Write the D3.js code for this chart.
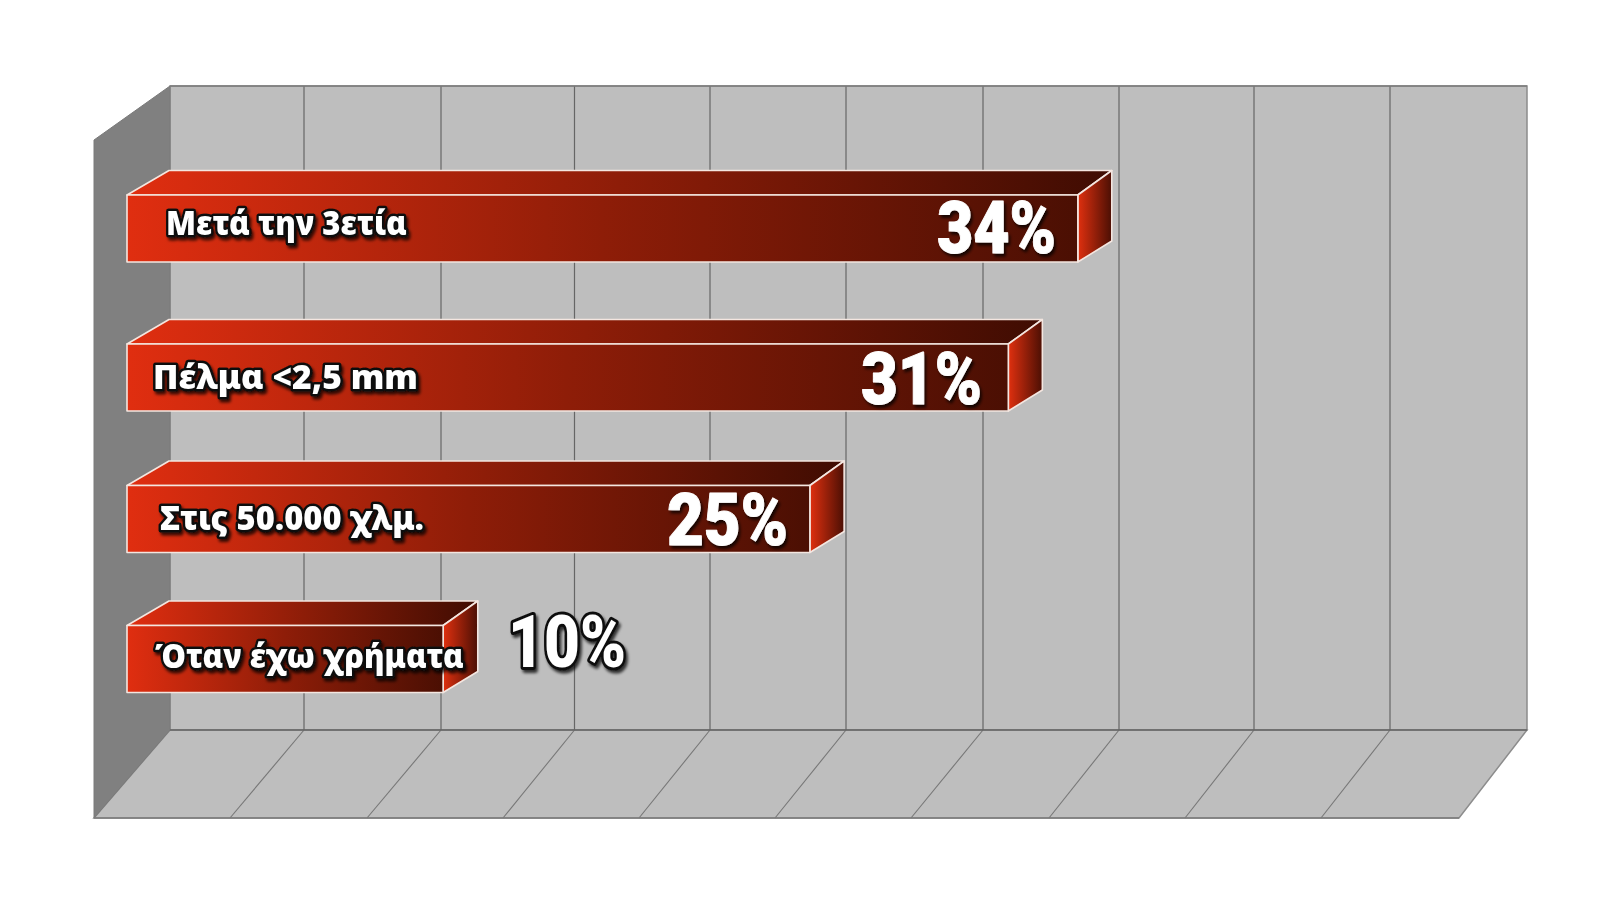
<!DOCTYPE html>
<html><head><meta charset="utf-8">
<script src="https://cdn.jsdelivr.net/npm/d3@7"></script>
<style>html,body{margin:0;background:#fff}svg{display:block}</style></head>
<body><svg id="c" width="1600" height="900"></svg>
<script>
const categories = ["Μετά την 3ετία","Πέλμα <2,5 mm","Στις 50.000 χλμ.","Όταν έχω χρήματα"];
const valueLabels = ["34%","31%","25%","10%"];
const plottedLengths = [34.74,32.2,24.95,11.55];
const axisTicks = [0,5,10,15,20,25,30,35,40,45,50];

const svg = d3.select("#c");
const W = {backL:170,backR:1527,top:86,floorBack:730,frontL:94,frontR:1459,floorFront:818,wallTop:140};
const backX = d3.scaleLinear().domain(axisTicks).range([170,304,441,574.5,710,846,983,1119,1254,1390,1527]);
const floorX = d3.scaleLinear().domain(axisTicks).range([94,230,367,503,639,775,911,1049,1185,1321,1459]);
const barBackX = d3.scaleLinear().domain([0,50]).range([162,162+27.34*50]);
const barFrontX = d3.scaleLinear().domain([0,50]).range([127,127+27.37*50]);
const BAR_BACK_LEFT = 169;
const barTop = d3.scaleOrdinal().domain(categories).range([195,344,485.5,625.5]);
const BAR_H = 67, DEPTH_TOP = 24.5, DEPTH_BOT = 21;

const defs = svg.append("defs");
function grad(id,a,b){
  const g = defs.append("linearGradient").attr("id",id).attr("x1",0).attr("x2",1).attr("y1",0).attr("y2",0);
  g.append("stop").attr("offset",0).attr("stop-color",a);
  g.append("stop").attr("offset",.5).attr("stop-color","#8e1d08");
  g.append("stop").attr("offset",1).attr("stop-color",b);
}
grad("front","#e02e10","#4b0f03");
grad("topf","#e02e10","#3f0c02");
const gs = defs.append("linearGradient").attr("id","side").attr("x1",0).attr("x2",1).attr("y1",0).attr("y2",0);
gs.append("stop").attr("offset",0).attr("stop-color","#e0300f");
gs.append("stop").attr("offset",1).attr("stop-color","#4b0f04");
const sh = defs.append("filter").attr("id","sh").attr("x","-10%").attr("y","-20%").attr("width","125%").attr("height","150%");
sh.append("feDropShadow").attr("dx",2).attr("dy",3).attr("stdDeviation",1.5).attr("flood-color","#000").attr("flood-opacity",.75);

const poly = pts => pts.map(p=>p.join(",")).join(" ");
svg.append("polygon").attr("points",poly([[W.backL,W.top],[W.backR,W.top],[W.backR,W.floorBack],[W.backL,W.floorBack]]))
  .attr("fill","#bebebe").attr("stroke","#8c8c8c").attr("stroke-width",1.5);
svg.append("polygon").attr("points",poly([[W.backL,W.floorBack],[W.backR,W.floorBack],[W.frontR,W.floorFront],[W.frontL,W.floorFront]]))
  .attr("fill","#bebebe").attr("stroke","#8c8c8c").attr("stroke-width",1.5);
svg.append("polygon").attr("points",poly([[W.frontL,W.wallTop],[W.backL,W.top],[W.backL,W.floorBack],[W.frontL,W.floorFront]]))
  .attr("fill","#808080").attr("stroke","#7a7a7a").attr("stroke-width",1);
svg.append("g").selectAll("line").data(axisTicks.slice(1,-1)).join("line")
  .attr("x1",backX).attr("x2",backX).attr("y1",W.top).attr("y2",W.floorBack)
  .attr("stroke","#666").attr("stroke-width",1.2);
svg.append("g").selectAll("line").data(axisTicks.slice(1,-1)).join("line")
  .attr("x1",backX).attr("x2",floorX).attr("y1",W.floorBack).attr("y2",W.floorFront)
  .attr("stroke","#777").attr("stroke-width",1.1);
svg.append("line").attr("x1",W.backL).attr("x2",W.backR).attr("y1",W.floorBack).attr("y2",W.floorBack).attr("stroke","#666").attr("stroke-width",1.5);
svg.append("line").attr("x1",W.backL).attr("x2",W.backR).attr("y1",W.top).attr("y2",W.top).attr("stroke","#7c7c7c").attr("stroke-width",1.3);
svg.append("line").attr("x1",W.frontL).attr("x2",W.frontR).attr("y1",W.floorFront).attr("y2",W.floorFront).attr("stroke","#7c7c7c").attr("stroke-width",1.5);

const rows = categories.map((c,i)=>({c,len:plottedLengths[i],lab:valueLabels[i],i}));
const bars = svg.append("g").selectAll("g").data(rows).join("g");
const edge = s => s.attr("stroke","#f4e6e0").attr("stroke-width",1.6).attr("stroke-linejoin","round");
bars.append("polygon").attr("points",d=>{const y=barTop(d.c),fx=barFrontX(d.len),bx=barBackX(d.len);
    return poly([[barFrontX(0),y],[BAR_BACK_LEFT,y-DEPTH_TOP],[bx,y-DEPTH_TOP],[fx,y]]);})
  .attr("fill","url(#topf)").call(edge);
bars.append("polygon").attr("points",d=>{const y=barTop(d.c),fx=barFrontX(d.len),bx=barBackX(d.len);
    return poly([[fx,y],[bx,y-DEPTH_TOP],[bx,y+BAR_H-DEPTH_BOT],[fx,y+BAR_H]]);})
  .attr("fill","url(#side)").call(edge);
bars.append("rect").attr("x",barFrontX(0)).attr("y",d=>barTop(d.c))
  .attr("width",d=>barFrontX(d.len)-barFrontX(0)).attr("height",BAR_H)
  .attr("fill","url(#front)").call(edge);

const labelBox = [[166,407],[153,418],[160,424],[155,464]];
const labelBase = [235,389,530,668];
bars.append("text").text(d=>d.c)
  .attr("x",d=>labelBox[d.i][0]).attr("y",d=>labelBase[d.i])
  .attr("textLength",d=>labelBox[d.i][1]-labelBox[d.i][0]).attr("lengthAdjust","spacingAndGlyphs")
  .attr("font-family","'Noto Sans','DejaVu Sans',sans-serif").attr("font-weight",900).attr("font-size",33)
  .attr("fill","#fff").attr("stroke","#111").attr("stroke-width",5).attr("paint-order","stroke").attr("stroke-linejoin","round")
  .attr("filter","url(#sh)");

const valBox = [[937,1056],[861,982],[667,788],[508,626]];
const valBase = [253,404,545,667];
bars.append("text").text(d=>d.lab)
  .attr("x",d=>valBox[d.i][0]).attr("y",d=>valBase[d.i])
  .attr("textLength",d=>valBox[d.i][1]-valBox[d.i][0]).attr("lengthAdjust","spacingAndGlyphs")
  .attr("font-family","Roboto,'Noto Sans',sans-serif").attr("font-weight",900).attr("font-size",73)
  .attr("fill","#fff")
  .attr("stroke",d=>d.i===3?"#111":"#fff").attr("stroke-width",d=>d.i===3?6:1)
  .attr("paint-order","stroke").attr("stroke-linejoin","round")
  .attr("filter","url(#sh)");
</script></body></html>
